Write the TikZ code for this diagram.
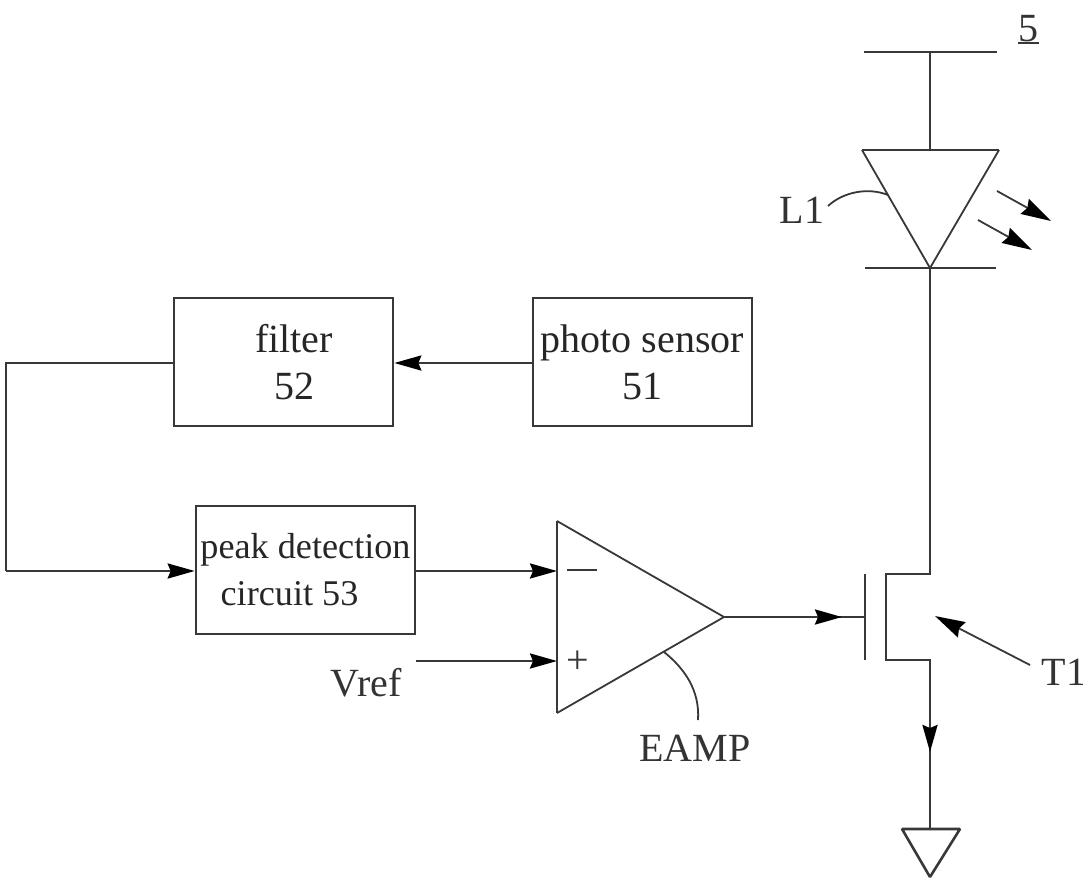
\documentclass[tikz,border=0pt]{standalone}
\usepackage{fontspec}
\setmainfont{Liberation Serif}
\usetikzlibrary{arrows.meta}
\definecolor{ink}{gray}{0.22}
\tikzset{
  x=1pt,y=-1pt,
  wire/.style={draw=ink,line width=2.6pt,line join=miter},
  thin wire/.style={draw=ink,line width=1.8pt},
  flow/.style={wire,-{Stealth[length=27pt,width=15pt,inset=3pt,black]}},
  thin flow/.style={thin wire,-{Stealth[length=30pt,width=17pt,inset=3pt,black]}},
  blockbox/.style={draw=ink,line width=2.6pt,minimum width=219pt,minimum height=128pt,inner sep=0pt,align=center,text=black!85,font=\fontsize{40}{47}\selectfont},
  label/.style={inner sep=0pt,text=black!80,font=\fontsize{40}{46}\selectfont},
  sign/.style={inner sep=0pt,text=ink,font=\fontsize{40}{40}\selectfont},
}
\begin{document}
\begin{tikzpicture}
\useasboundingbox (0,0) rectangle (1083,881);
% blocks
\node[blockbox] (filter) at (283.5,362) {\hspace*{21pt}filter\\\hspace*{21pt}52};
\node[blockbox] (sensor) at (642.5,362) {photo sensor\\51};
\node[blockbox,font=\fontsize{36.2}{47}\selectfont] (peak) at (305.5,570) {peak detection\\circuit 53\hspace*{32pt}};
% key coordinates
\coordinate (c1) at (6,363);
\coordinate (c2) at (6,571);
\coordinate (ampA) at (557,521);
\coordinate (ampB) at (557,713);
\coordinate (ampT) at (724,617);
\coordinate (ampM) at (557,571);
\coordinate (ampP) at (557,661);
\coordinate (gateM) at (865,617);
\coordinate (gateA) at (865,574);
\coordinate (gateB) at (865,660);
\coordinate (chA) at (886,574);
\coordinate (chB) at (886,660);
\coordinate (d) at (930,574);
\coordinate (s) at (930,660);
\coordinate (railL) at (864,52);
\coordinate (railR) at (997,52);
\coordinate (railM) at (930,52);
\coordinate (ledL) at (862,150);
\coordinate (ledR) at (999,150);
\coordinate (ledM) at (930,150);
\coordinate (ledA) at (930,268);
\coordinate (barL) at (865,268);
\coordinate (barR) at (996,268);
\coordinate (gndL) at (902,829);
\coordinate (gndR) at (960,829);
\coordinate (gndM) at (930,829);
\coordinate (gndA) at (930,877);
\coordinate (srcMid) at (930,752);
\coordinate (gateTip) at (842,617);
% block wiring
\draw[flow] (sensor.west |- 0,363) -- (filter.east |- 0,363);
\draw[wire] (filter.west |- 0,363) -- (c1) -- (c2);
\draw[flow] (c2) -- (peak.west |- 0,571);
\draw[flow] (peak.east |- 0,571) -- (ampM);
\node[label] (vref) at (366,683) {Vref};
\coordinate (vrefE) at (416,661);
\draw[flow] (vrefE) -- (ampP);
% amplifier
\draw[wire] (ampA) -- (ampB);
\draw[thin wire,line join=bevel] (ampA) -- (ampT) -- (ampB);
\node[sign] (plus) at (578,662) {+};
\coordinate (minL) at (567,570);
\coordinate (minR) at (597,570);
\draw[thin wire] (minL) -- (minR);
\coordinate (eampS) at (664,652);
\coordinate (eampE) at (698,720);
\draw[thin wire] (eampS) .. controls (684,668) and (700,690) .. (eampE);
\node[label] (eamp) at (695,748) {EAMP};
% transistor
\draw[wire] (ampT) -- (gateM);
\draw[flow] (ampT) -- (gateTip);
\draw[thin wire] (gateA) -- (gateB);
\draw[wire] (ledA) -- (d) -- (chA) -- (chB) -- (s) -- (gndM);
\draw[flow] (s) -- (srcMid);
% ground
\draw[wire,line join=bevel] (gndL) -- (gndR) -- (gndA) -- cycle;
% LED
\draw[wire] (railL) -- (railR);
\draw[wire] (railM) -- (ledM);
\draw[wire] (ledL) -- (ledR);
\draw[thin wire] (ledL) -- (ledA) -- (ledR);
\draw[wire] (barL) -- (barR);
% light arrows
\coordinate (r1s) at (997,191);
\coordinate (r1e) at (1051,221);
\coordinate (r2s) at (978,220);
\coordinate (r2e) at (1032,250);
\draw[thin flow] (r1s) -- (r1e);
\draw[thin flow] (r2s) -- (r2e);
% labels
\node[label] (l1) at (802,210) {L1};
\coordinate (l1s) at (828,206);
\coordinate (l1e) at (888,195);
\draw[thin wire] (l1s) .. controls (843,192) and (868,187) .. (l1e);
\node[label] (five) at (1028,29) {5};
\coordinate (u1) at (1018,43);
\coordinate (u2) at (1039,43);
\draw[thin wire] (u1) -- (u2);
\node[label] (t1) at (1064,672) {T1};
\coordinate (t1s) at (1030,665);
\coordinate (t1e) at (935,616);
\draw[thin flow] (t1s) -- (t1e);
\end{tikzpicture}
\end{document}
